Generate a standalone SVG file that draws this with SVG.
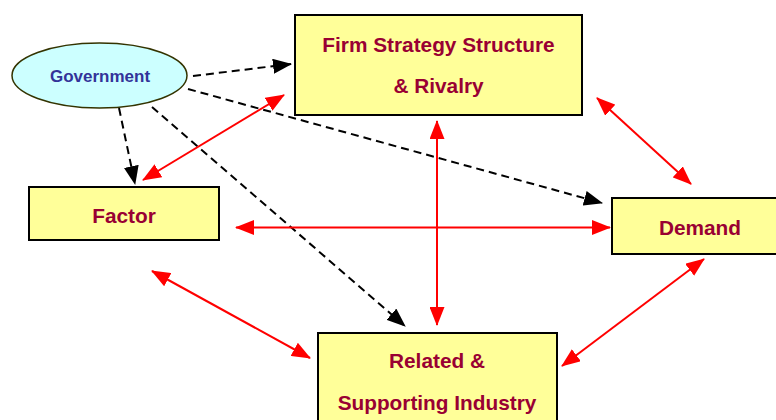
<svg xmlns="http://www.w3.org/2000/svg" width="776" height="420" viewBox="0 0 776 420">
<defs>
<style>
.box{fill:#FFFF99;stroke:#000;stroke-width:2}
.lbl{font-family:"Liberation Sans",Arial,sans-serif;font-weight:bold;font-size:20.8px;fill:#990033;text-anchor:middle}
.red{stroke:#FF0000;stroke-width:2;fill:none;marker-start:url(#ra);marker-end:url(#ra)}
.dash{stroke:#000;stroke-width:2;fill:none;stroke-dasharray:8 5;marker-end:url(#ba)}
</style>
<marker id="ra" viewBox="0 0 19 15" refX="18" refY="7.5" markerWidth="19" markerHeight="15" markerUnits="userSpaceOnUse" orient="auto-start-reverse"><path d="M0,0 L19,7.5 L0,15 z" fill="#FF0000"/></marker>
<marker id="ba" viewBox="0 0 19 15" refX="18" refY="7.5" markerWidth="19" markerHeight="15" markerUnits="userSpaceOnUse" orient="auto"><path d="M0,0 L19,7.5 L0,15 z" fill="#000"/></marker>
</defs>
<rect width="776" height="420" fill="#fff"/>
<g id="connectors">
<path class="dash" d="M193,76 L291,64"/>
<path class="dash" d="M188,89 L602,203"/>
<path class="dash" d="M119,108 L135,184"/>
<path class="dash" d="M152,107 L405,326"/>
<path class="red" d="M143,180 L284,95"/>
<path class="red" d="M437,121 L437,325"/>
<path class="red" d="M236,227.5 L610,227.5"/>
<path class="red" d="M597,98 L691,184"/>
<path class="red" d="M152,271 L310,358"/>
<path class="red" d="M562,366 L704,259"/>
</g>
<g id="government">
<ellipse cx="99.5" cy="75.5" rx="87.5" ry="32.5" fill="#CCFFFF" stroke="#333300" stroke-width="1.5"/>
<text x="100" y="81.5" font-family="'Liberation Sans',Arial,sans-serif" font-weight="bold" font-size="17" fill="#333399" text-anchor="middle">Government</text>
</g>
<g id="firm">
<rect class="box" x="295" y="15" width="287" height="100"/>
<text class="lbl" x="438.5" y="51.5">Firm Strategy Structure</text>
<text class="lbl" x="438.5" y="93">&amp; Rivalry</text>
</g>
<g id="factor">
<rect class="box" x="29" y="187" width="190" height="53"/>
<text class="lbl" x="124" y="223">Factor</text>
</g>
<g id="demand">
<rect class="box" x="612" y="198" width="180" height="56"/>
<text class="lbl" x="700" y="235">Demand</text>
</g>
<g id="related">
<rect class="box" x="318" y="333" width="239" height="100"/>
<text class="lbl" x="437" y="368">Related &amp;</text>
<text class="lbl" x="437" y="410">Supporting Industry</text>
</g>
</svg>
